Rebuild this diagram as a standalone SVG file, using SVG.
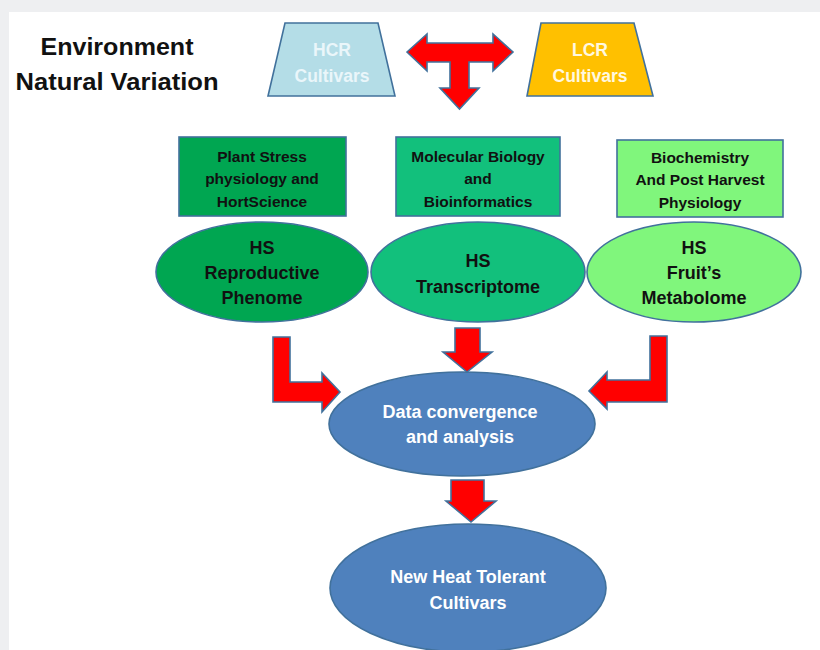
<svg xmlns="http://www.w3.org/2000/svg" width="820" height="650" viewBox="0 0 820 650">
<defs>
<style>
.t{font-family:"Liberation Sans",Arial,sans-serif;font-weight:bold;text-anchor:middle;dominant-baseline:central}
.dk{fill:#111}
.wh{fill:#ffffff}
.sh{stroke:#41719c;stroke-width:1.6}
.arr{fill:#ff0000;stroke:#41719c;stroke-width:1.6;stroke-linejoin:miter}
.box{font-size:15.5px}
.ell{font-size:18px}
</style>
</defs>
<rect x="0" y="0" width="820" height="650" fill="#eeeff1"/>
<rect x="9" y="12" width="811" height="638" fill="#ffffff"/>

<g id="title">
<text class="t dk" x="117" y="47" font-size="23" textLength="153" lengthAdjust="spacingAndGlyphs">Environment</text>
<text class="t dk" x="117" y="82" font-size="23" textLength="203" lengthAdjust="spacingAndGlyphs">Natural Variation</text>
</g>

<g id="hcr">
<path class="sh" d="M285,23 H378 L395,96 H268 Z" fill="#b4dde7"/>
<text class="t" x="332" y="50" font-size="17.5" fill="#eaf6fa">HCR</text>
<text class="t" x="332" y="76" font-size="17.5" fill="#eaf6fa">Cultivars</text>
</g>

<g id="lcr">
<path class="sh" d="M541,23 H634 L653,96 H527 Z" fill="#ffc000"/>
<text class="t" x="590" y="50" font-size="17.5" fill="#fff8e0">LCR</text>
<text class="t" x="590" y="76" font-size="17.5" fill="#fff8e0">Cultivars</text>
</g>

<g id="box1">
<rect class="sh" x="179" y="137" width="167" height="79" fill="#00a651"/>
<text class="t dk box" x="262" y="156">Plant Stress</text>
<text class="t dk box" x="262" y="178">physiology and</text>
<text class="t dk box" x="262" y="201">HortScience</text>
</g>

<g id="box2">
<rect class="sh" x="396" y="137" width="164" height="79" fill="#12c07c"/>
<text class="t dk box" x="478" y="156">Molecular Biology</text>
<text class="t dk box" x="478" y="178">and</text>
<text class="t dk box" x="478" y="201">Bioinformatics</text>
</g>

<g id="box3">
<rect class="sh" x="617" y="140" width="166" height="77" fill="#80f67c"/>
<text class="t dk box" x="700" y="157">Biochemistry</text>
<text class="t dk box" x="700" y="179">And Post Harvest</text>
<text class="t dk box" x="700" y="202">Physiology</text>
</g>

<g id="phenome">
<ellipse class="sh" cx="262" cy="272" rx="106" ry="50" fill="#00a651"/>
<text class="t dk ell" x="262" y="248">HS</text>
<text class="t dk ell" x="262" y="273">Reproductive</text>
<text class="t dk ell" x="262" y="298">Phenome</text>
</g>

<g id="transcriptome">
<ellipse class="sh" cx="478" cy="272" rx="107" ry="50" fill="#12c07c"/>
<text class="t dk ell" x="478" y="261">HS</text>
<text class="t dk ell" x="478" y="287">Transcriptome</text>
</g>

<g id="metabolome">
<ellipse class="sh" cx="694" cy="272" rx="107" ry="50" fill="#80f67c"/>
<text class="t dk ell" x="694" y="248">HS</text>
<text class="t dk ell" x="694" y="273">Fruit’s</text>
<text class="t dk ell" x="694" y="298">Metabolome</text>
</g>

<g id="convergence">
<ellipse class="sh" cx="462" cy="424" rx="133" ry="52" fill="#4f81bd"/>
<text class="t wh ell" x="460" y="412">Data convergence</text>
<text class="t wh ell" x="460" y="437">and analysis</text>
</g>

<g id="tolerant">
<ellipse class="sh" cx="468" cy="588" rx="138" ry="64" fill="#4f81bd"/>
<text class="t wh ell" x="468" y="577">New Heat Tolerant</text>
<text class="t wh ell" x="468" y="603">Cultivars</text>
</g>

<g id="connectors">
<path class="arr" d="M407,52 L427,34 V43 H493 V34 L513,52 L493,71 V62 H469 V88 H479 L459.5,109 L440,88 H450 V62 H427 V71 Z"/>
<path class="arr" d="M273,337 H290 V382 H322 V373 L340,392 L322,412 V402 H273 Z"/>
<path class="arr" d="M455,328 H480 V352 H492 L467,372 L443,352 H455 Z"/>
<path class="arr" d="M650,336 H667 V402 H607 V409 L589,391 L607,372 V380 H650 Z"/>
<path class="arr" d="M451,480 H484 V501 H496 L471,522 L446,501 H451 Z"/>
</g>
</svg>
